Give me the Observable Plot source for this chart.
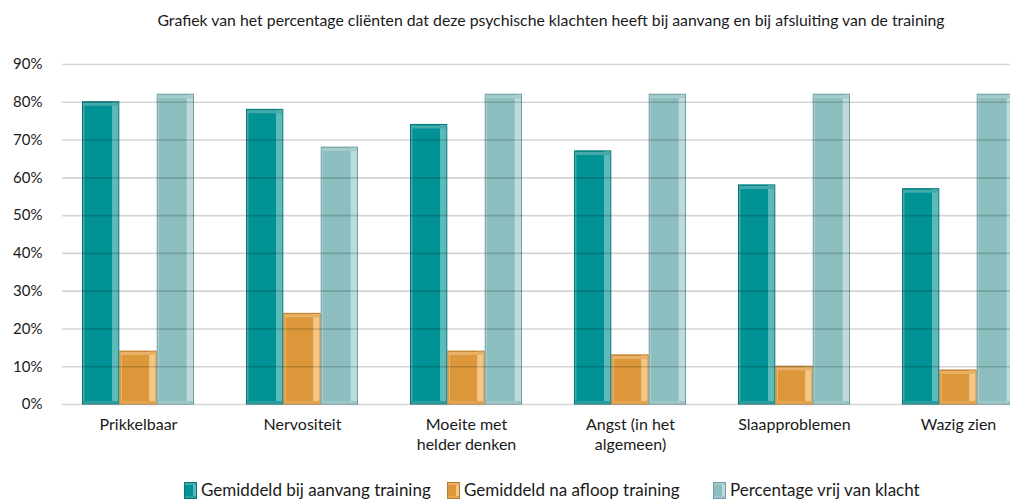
<!DOCTYPE html>
<html><head><meta charset="utf-8">
<script src="https://cdn.jsdelivr.net/npm/d3@7"></script>
<script src="https://cdn.jsdelivr.net/npm/@observablehq/plot@0.6"></script>
<style>
html,body{margin:0;padding:0;background:#fff;overflow:hidden;}
body{width:1010px;height:499px;font-family:Lato,"Open Sans",sans-serif;color:#1a1a1a;}
#title{height:40px;line-height:40px;font-size:15.8px;text-align:center;padding-left:92px;box-sizing:border-box;width:1010px;white-space:nowrap;}
#legend{height:39px;box-sizing:border-box;padding-top:20px;display:flex;font-size:17px;line-height:20px;}
.item{display:flex;align-items:center;position:absolute;}
.sw{width:13px;height:17px;margin-right:4px;box-sizing:border-box;}
</style></head>
<body>
<div id="title">Grafiek van het percentage cliënten dat deze psychische klachten heeft bij aanvang en bij afsluiting van de training</div>
<div id="chart"></div>
<div id="legend"></div>
<script>
const categories = ["Prikkelbaar","Nervositeit","Moeite met\nhelder denken","Angst (in het\nalgemeen)","Slaapproblemen","Wazig zien"];
const seriesNames = ["Gemiddeld bij aanvang training","Gemiddeld na afloop training","Percentage vrij van klacht"];
const aanvang = [80,78,74,67,58,57];
const afloop  = [14,24,14,13,10,9];
const vrij    = [82,68,82,82,82,82];
const yTicks  = [0,10,20,30,40,50,60,70,80,90];

const seriesValues = [aanvang, afloop, vrij];
const palette = [
  {main:"#009294", light:"#5cbabb", dark:"#00777a", top:"#45a9aa", bottom:"#2c9c9d"},
  {main:"#dc973b", light:"#f2c785", dark:"#b97a2c", top:"#e8b165", bottom:"#e3a650"},
  {main:"#8cbdbf", light:"#bddbdc", dark:"#6f9fa1", top:"#a6cdce", bottom:"#9cc6c8"}
];

const rows = seriesValues.map((vals, s) => categories.map((c, i) => ({cat: c, series: seriesNames[s], s, value: vals[i]})));

const bw = (1016 - 80) / (6 - 0.32) * (1 - 0.32);
const w = bw / 3;

const marks = [];
rows.forEach((data, s) => {
  const il = s * w, ir = (2 - s) * w;
  marks.push(Plot.barY(data, {x: "cat", y: "value", fill: `url(#g${s})`, stroke: palette[s].dark, strokeWidth: 1, insetLeft: il + 0.5, insetRight: ir + 0.5}));
  marks.push(Plot.tickY(data, {x: "cat", y: "value", stroke: palette[s].top, strokeWidth: 3, dy: 2, insetLeft: il + 1, insetRight: ir + 1}));
  marks.push(Plot.tickY(data, {x: "cat", y: 0, stroke: palette[s].bottom, strokeWidth: 3, dy: -2, insetLeft: il + 1, insetRight: ir + 1}));
});
marks.push(Plot.ruleY(yTicks, {stroke: "#000", strokeOpacity: 0.17, strokeWidth: 1.6}));

const hasAxisMarks = typeof Plot.axisX === "function";
if (hasAxisMarks) {
  marks.push(Plot.axisY(yTicks, {tickSize: 0, tickPadding: 20, tickFormat: d => d + "%", fontSize: 15, label: null}));
  marks.push(Plot.axisX({tickSize: 0, tickPadding: 11, fontSize: 16, lineHeight: 1.25, label: null}));
}

const svg = Plot.plot({
  width: 1010, height: 420,
  marginLeft: 62, marginRight: 0, marginTop: 24, marginBottom: 56,
  style: {fontFamily: "Lato, 'Open Sans', sans-serif", fontSize: "15px", color: "#1a1a1a", background: "white", overflow: "hidden"},
  x: {domain: categories, range: [80, 1016], paddingInner: 0.32, paddingOuter: 0, label: null, axis: hasAxisMarks ? null : "bottom", tickSize: 0},
  y: {domain: [0, 90], ticks: yTicks, tickFormat: d => d + "%", label: null, axis: hasAxisMarks ? null : "left", tickSize: 0, tickPadding: 20},
  marks
});

const defs = d3.select(svg).insert("defs", ":first-child");
palette.forEach((p, s) => {
  const g = defs.append("linearGradient").attr("id", "g" + s).attr("x1", 0).attr("x2", 1).attr("y1", 0).attr("y2", 0);
  [[0, p.top],[0.05, p.top],[0.06, p.main],[0.8, p.main],[0.82, p.light],[1, p.light]].forEach(([o, c]) =>
    g.append("stop").attr("offset", o).attr("stop-color", c));
});
document.getElementById("chart").appendChild(svg);

// legend
const legend = d3.select("#legend");
const lx = [184, 447, 713];
seriesNames.forEach((n, s) => {
  const p = palette[s];
  const it = legend.append("div").attr("class", "item").style("left", lx[s] + "px");
  it.append("div").attr("class", "sw")
    .style("background", `linear-gradient(to right, ${p.main} 0%, ${p.main} 72%, ${p.light} 74%, ${p.light} 100%)`)
    .style("border", `1px solid ${p.dark}`)
    .style("box-shadow", `inset 0 2px 0 ${p.top}, inset 0 -2px 0 ${p.bottom}`);
  it.append("span").text(n);
});
</script>
</body></html>
